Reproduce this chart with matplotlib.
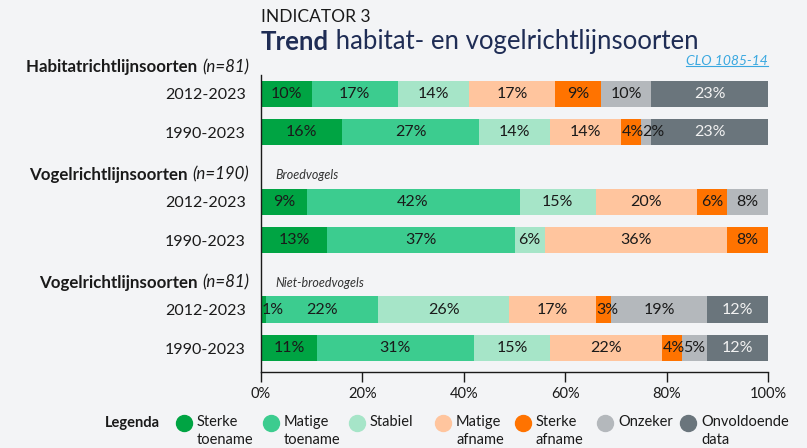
import numpy as np
import matplotlib.pyplot as plt
from matplotlib.lines import Line2D

plt.rcParams['font.family'] = ['Lato', 'DejaVu Sans']

# data
categories = ['Sterke\ntoename', 'Matige\ntoename', 'Stabiel', 'Matige\nafname',
              'Sterke\nafname', 'Onzeker', 'Onvoldoende\ndata']
colors = ['#00a443', '#3ccc8f', '#a6e5c8', '#ffc59e', '#ff7300', '#b4b8bc', '#6a757c']

group_titles = ['Habitatrichtlijnsoorten', 'Vogelrichtlijnsoorten', 'Vogelrichtlijnsoorten']
group_n = ['(n=81)', '(n=190)', '(n=81)']
group_sub = ['', 'Broedvogels', 'Niet-broedvogels']
periods = ['2012-2023', '1990-2023']

habitat_2012 = [10, 17, 14, 17, 9, 10, 23]
habitat_1990 = [16, 27, 14, 14, 4, 2, 23]
broed_2012 = [9, 42, 15, 20, 6, 8, 0]
broed_1990 = [13, 37, 6, 36, 8, 0, 0]
nietbroed_2012 = [1, 22, 26, 17, 3, 19, 12]
nietbroed_1990 = [11, 31, 15, 22, 4, 5, 12]

groups = [[habitat_2012, habitat_1990],
          [broed_2012, broed_1990],
          [nietbroed_2012, nietbroed_1990]]

bg = '#f3f4f6'
ink = '#1a1a1a'
fig = plt.figure(figsize=(8.07, 4.48), dpi=100, facecolor=bg)
ax = fig.add_axes([261 / 807, (448 - 372) / 448, 507 / 807, 297 / 448])
ax.set_facecolor(bg)

group_step = 2.8
bar_h = 0.68
ypos = []
ylabels = []
for g, rows in enumerate(groups):
    for i, vals in enumerate(rows):
        y = g * group_step + i
        ypos.append(y)
        ylabels.append(periods[i])
        left = 0
        for k, v in enumerate(vals):
            if v == 0:
                continue
            ax.barh(y, v, left=left, height=bar_h, color=colors[k], linewidth=0)
            tc = '#f2f2f2' if k == 6 else ink
            if v <= 4:
                ax.text(left + 0.2, y, f'{v}%', ha='left', va='center', fontsize=11.5, color=tc)
            else:
                ax.text(left + v / 2, y, f'{v}%', ha='center', va='center', fontsize=11.5, color=tc)
            left += v
    # group header: bold title + italic n
    hy = g * group_step - 0.70
    t_it = ax.text(-0.024, hy, group_n[g], transform=ax.get_yaxis_transform(),
                   ha='right', va='center', fontsize=12.2, style='italic', color=ink)
    ax.annotate(group_titles[g] + ' ', xy=(0, 0.5), xycoords=t_it, ha='right', va='center',
                fontsize=12.2, fontweight='bold', color=ink)
    if group_sub[g]:
        ax.text(2.8, hy, group_sub[g], ha='left', va='center', fontsize=9,
                style='italic', color='#333333')

ax.set_xlim(0, 100)
ax.set_ylim(ypos[-1] + 0.62, -0.49)
ax.set_yticks(ypos)
ax.set_yticklabels(ylabels, fontsize=11.5, color=ink)
ax.tick_params(axis='y', length=0, pad=11)
ax.set_xticks(np.arange(0, 101, 20))
ax.set_xticklabels([f'{v}%' for v in range(0, 101, 20)], fontsize=10.5, color=ink)
ax.tick_params(axis='x', length=7, width=1, pad=4, color=ink)
for s in ['top', 'right']:
    ax.spines[s].set_visible(False)
for s in ['left', 'bottom']:
    ax.spines[s].set_color(ink)
    ax.spines[s].set_linewidth(1)

# title
fig.text(261 / 807, 1 - 17 / 448, 'INDICATOR 3', ha='left', va='center',
         fontsize=12.5, color=ink)
t1 = fig.text(261 / 807, 1 - 42 / 448, 'Trend', ha='left', va='center',
              fontsize=18.5, fontweight='bold', color='#1f2d55')
ax.annotate(' habitat- en vogelrichtlijnsoorten', xy=(1, 0.5), xycoords=t1,
            ha='left', va='center', fontsize=18.5, color='#1f2d55')
link = fig.text(768 / 807, 1 - 61 / 448, 'CLO 1085-14', ha='right', va='center',
                fontsize=10, style='italic', color='#3aa8e0')
fig.canvas.draw()
bb = link.get_window_extent()
fig.add_artist(Line2D([bb.x0 / fig.bbox.width, bb.x1 / fig.bbox.width],
                      [(bb.y0 + 1) / fig.bbox.height] * 2, color='#3aa8e0', lw=0.8))

# legend
fig.text(105 / 807, 1 - 423 / 448, 'Legenda', ha='left', va='center',
         fontsize=10.5, fontweight='bold', color=ink)
leg_x = [184, 271, 357, 443, 523, 605, 688]
for k, cat in enumerate(categories):
    fig.add_artist(Line2D([leg_x[k] / 807], [1 - 423 / 448], marker='o', markersize=11.5,
                          color=colors[k], linestyle='none'))
    fig.text((leg_x[k] + 13) / 807, 1 - 415 / 448, cat, ha='left', va='top',
             fontsize=10.5, color=ink, linespacing=1.35)

fig.savefig('out.png', dpi=100, facecolor=bg)
